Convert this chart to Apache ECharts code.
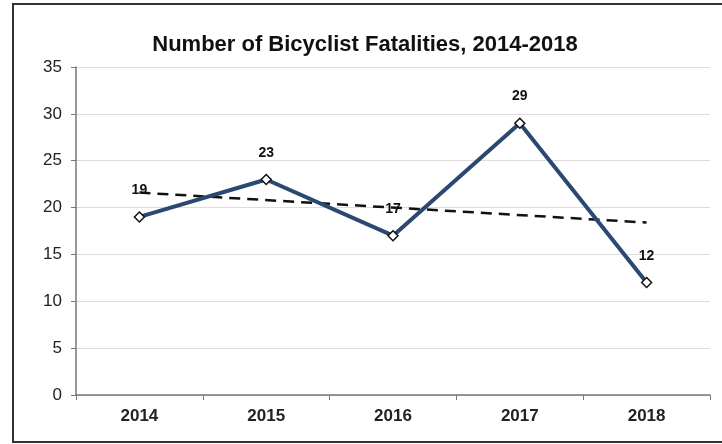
<!DOCTYPE html>
<html>
<head>
<meta charset="utf-8">
<script src="https://cdn.jsdelivr.net/npm/echarts@6/dist/echarts.min.js"></script>
<style>
  html, body { margin: 0; padding: 0; background: #fff; }
  #chart { width: 722px; height: 444px; }
</style>
</head>
<body>
<div id="chart"></div>
<script>
const years = ['2014', '2015', '2016', '2017', '2018']
const fatalities = [19, 23, 17, 29, 12]
// dashed trend line, ends
const trend = [21.6, null, null, null, 18.4]
const yTicks = { min: 0, max: 35, step: 5 }

const chart = echarts.init(document.getElementById('chart'))

const option = {
  animation: false,
  title: {
    text: 'Number of Bicyclist Fatalities, 2014-2018',
    left: 360,
    top: 29,
    textAlign: 'center',
    textStyle: { fontFamily: 'Liberation Sans', fontSize: 22, fontWeight: 'bold', color: '#111' }
  },
  graphic: [{
    type: 'rect',
    shape: { x: 13, y: 4, width: 720, height: 438 },
    style: { fill: 'none', stroke: '#333', lineWidth: 2 },
    silent: true
  }],
  grid: { left: 76, right: 12, top: 67, bottom: 49 },
  xAxis: {
    type: 'category',
    data: years,
    boundaryGap: true,
    axisLine: { lineStyle: { color: '#777', width: 1.5 } },
    axisTick: { show: true, length: 5, inside: false, lineStyle: { color: '#777' } },
    axisLabel: { margin: 13, fontFamily: 'Liberation Sans', fontSize: 17, fontWeight: 'bold', color: '#222' }
  },
  yAxis: {
    type: 'value',
    min: yTicks.min,
    max: yTicks.max,
    interval: yTicks.step,
    axisLine: { show: true, lineStyle: { color: '#777', width: 1.5 } },
    axisTick: { show: true, length: 5, lineStyle: { color: '#777' } },
    axisLabel: { margin: 14, fontFamily: 'Liberation Sans', fontSize: 17, color: '#222' },
    splitLine: { lineStyle: { color: '#ddd', width: 1 } }
  },
  series: [
    {
      name: 'Trend',
      type: 'line',
      data: trend,
      connectNulls: true,
      symbol: 'none',
      lineStyle: { color: '#111', width: 2.5, type: [11, 7] },
      z: 1
    },
    {
      name: 'Fatalities',
      type: 'line',
      data: fatalities,
      symbol: 'diamond',
      symbolSize: 10,
      showSymbol: true,
      lineStyle: { color: '#2b4870', width: 4 },
      itemStyle: { color: '#fff', borderColor: '#111', borderWidth: 1.5 },
      label: {
        show: true,
        position: 'top',
        distance: 14,
        fontFamily: 'Liberation Sans',
        fontSize: 14,
        fontWeight: 'bold',
        color: '#111'
      },
      z: 3
    }
  ]
}

chart.setOption(option)
</script>
</body>
</html>
